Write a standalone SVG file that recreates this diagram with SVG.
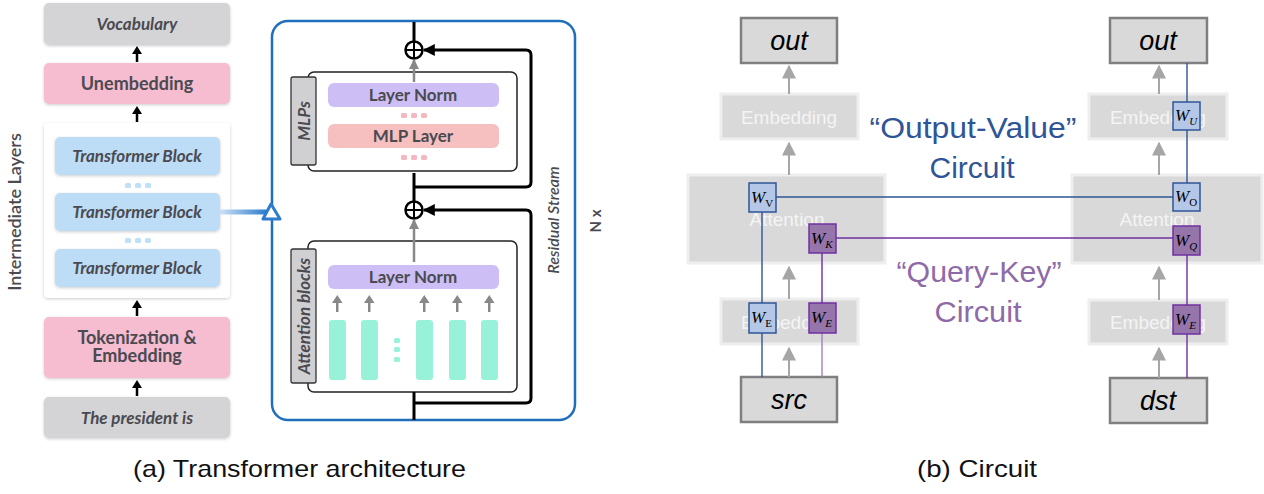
<svg xmlns="http://www.w3.org/2000/svg" width="1264" height="494" viewBox="0 0 1264 494">
<defs>
<style>
.lt{font-family:Lato,"Open Sans","Liberation Sans",sans-serif;fill:#4a4a50;text-anchor:middle}
.bi{font-weight:700;font-style:italic;font-size:17px}
.b{font-weight:700;font-size:18px}
.ln{font-weight:700;font-size:17px}
.sh{filter:url(#shadow)}
.gray{fill:#d4d4d7}
.pink{fill:#f6bcd0}
.tb{fill:#bddcf6}
.lnorm{fill:#cdbff5}
.mlp{fill:#f6c0c0}
.grn{fill:#97f2d9}
.inner{fill:#fff;stroke:#222;stroke-width:1.5}
.lab{fill:#d0d0d3;stroke:#333;stroke-width:1.3}
.res{fill:none;stroke:#000;stroke-width:3}
.ga{stroke:#888;stroke-width:2.5;fill:none}
.cal{font-family:"Liberation Sans",Arial,sans-serif}
.tk{fill:#d9d9d9;stroke:#7f7f7f;stroke-width:2.5}
.fd{fill:#d9d9d9;stroke:#eeeeee;stroke-width:3}
.fdt{font-family:"Liberation Sans",Arial,sans-serif;fill:#f4f4f4;font-size:19px;text-anchor:middle}
.wb{fill:#b4c7e7;stroke:#2f5597;stroke-width:1.5}
.wp{fill:#9575aa;stroke:#7030a0;stroke-width:1.5}
.wt{font-family:"Liberation Serif","Times New Roman",serif;font-style:italic;font-size:17px;fill:#000}
.ws{font-size:11px}
.up{font-style:normal}
.bl{stroke:#2f5597;stroke-width:1.4;fill:none}
.pl{stroke:#7030a0;stroke-width:1.4;fill:none}
.pl2{stroke:#a27fc4;stroke-width:1.4;fill:none}
.gar{stroke:#a6a6a6;stroke-width:2;fill:none}
</style>
<filter id="shadow" x="-10%" y="-10%" width="120%" height="130%">
<feDropShadow dx="0" dy="1" stdDeviation="1.5" flood-color="#000" flood-opacity="0.2"/>
</filter>
<marker id="bk" viewBox="0 0 10 10" refX="9" refY="5" markerWidth="4" markerHeight="4" orient="auto">
<path d="M0,0 L10,5 L0,10 z" fill="#000"/>
</marker>
<marker id="gk" viewBox="0 0 10 10" refX="9" refY="5" markerWidth="4" markerHeight="4" orient="auto">
<path d="M0,0 L10,5 L0,10 z" fill="#888"/>
</marker>
<marker id="ga2" viewBox="0 0 10 10" refX="9" refY="5" markerWidth="7" markerHeight="7.5" orient="auto">
<path d="M0,0 L10,5 L0,10 z" fill="#a6a6a6"/>
</marker>
<linearGradient id="bg" gradientUnits="userSpaceOnUse" x1="222" y1="212" x2="266" y2="212">
<stop offset="0" stop-color="#c7def5"/>
<stop offset="1" stop-color="#2e7dcc"/>
</linearGradient>
</defs>
<rect width="1264" height="494" fill="#fff"/>

<!-- ===== Left panel ===== -->
<g id="intermediate-layers-label">
<text class="lt" transform="translate(21,212) rotate(-90)" font-size="18" font-weight="600" font-family="'Open Sans',Lato,sans-serif" fill="#555">Intermediate Layers</text>
</g>
<g id="vocabulary"><rect class="gray sh" x="44" y="3" width="186" height="42" rx="5"/><text class="lt bi" x="137" y="30">Vocabulary</text></g>
<g id="unembedding"><rect class="pink sh" x="44" y="63" width="186" height="41" rx="5"/><text class="lt b" x="137" y="90">Unembedding</text></g>
<g id="intermediate-box">
<rect x="44" y="123" width="186" height="175" rx="4" fill="#fff" class="sh"/>
</g>
<g id="tblock1"><rect class="tb sh" x="55" y="137" width="165" height="38" rx="5"/><text class="lt bi" x="137" y="162">Transformer Block</text></g>
<g id="dots1" fill="#bfe0f7"><rect x="125" y="183" width="6" height="5" rx="1.5"/><rect x="135" y="183" width="6" height="5" rx="1.5"/><rect x="145" y="183" width="6" height="5" rx="1.5"/></g>
<g id="tblock2"><rect class="tb sh" x="55" y="193" width="165" height="38" rx="5"/><text class="lt bi" x="137" y="218">Transformer Block</text></g>
<g id="dots2" fill="#bfe0f7"><rect x="125" y="238" width="6" height="5" rx="1.5"/><rect x="135" y="238" width="6" height="5" rx="1.5"/><rect x="145" y="238" width="6" height="5" rx="1.5"/></g>
<g id="tblock3"><rect class="tb sh" x="55" y="249" width="165" height="38" rx="5"/><text class="lt bi" x="137" y="274">Transformer Block</text></g>
<g id="tokenization"><rect class="pink sh" x="44" y="317" width="186" height="61" rx="5"/><text class="lt b" x="137" y="344">Tokenization &amp;</text><text class="lt b" x="137" y="362">Embedding</text></g>
<g id="prompt"><rect class="gray sh" x="44" y="397" width="186" height="41" rx="5"/><text class="lt bi" x="137" y="424">The president is</text></g>

<!-- ===== Middle panel ===== -->
<g id="nx-panel">
<rect x="272" y="21" width="303" height="399" rx="16" fill="none" stroke="#1f6fbd" stroke-width="2.5"/>
<text class="lt" transform="translate(559,220) rotate(-90)" font-size="16" font-style="italic" font-weight="600" fill="#555">Residual Stream</text>
<text class="lt" transform="translate(601,221) rotate(-90)" font-size="15" font-weight="700" font-family="'Open Sans',sans-serif" fill="#555">N x</text>
</g>
<g id="mlp-block">
<rect class="inner" x="308" y="72" width="209" height="99" rx="6"/>
<rect class="lab" x="291" y="77" width="25" height="88" rx="2"/>
<text class="lt" transform="translate(310,121) rotate(-90)" font-size="17" font-style="italic" font-weight="700">MLPs</text>
<rect class="lnorm" x="328" y="83" width="171" height="24" rx="6"/>
<text class="lt ln" x="413" y="101">Layer Norm</text>
<g fill="#f6b8bf"><rect x="401" y="113" width="6" height="5" rx="1.5"/><rect x="411" y="113" width="6" height="5" rx="1.5"/><rect x="421" y="113" width="6" height="5" rx="1.5"/></g>
<rect class="mlp" x="328" y="124" width="171" height="24" rx="6"/>
<text class="lt ln" x="413" y="142">MLP Layer</text>
<g fill="#f6b8bf"><rect x="401" y="155" width="6" height="5" rx="1.5"/><rect x="411" y="155" width="6" height="5" rx="1.5"/><rect x="421" y="155" width="6" height="5" rx="1.5"/></g>
</g>
<g id="attention-block">
<rect class="inner" x="308" y="241" width="209" height="151" rx="6"/>
<rect class="lab" x="291" y="249" width="25" height="134" rx="2"/>
<text class="lt" transform="translate(310,316) rotate(-90)" font-size="17" font-style="italic" font-weight="700">Attention blocks</text>
<rect class="lnorm" x="328" y="265" width="171" height="24" rx="6"/>
<text class="lt ln" x="413" y="283">Layer Norm</text>
<g class="grn">
<rect x="329" y="320" width="17" height="60" rx="3"/>
<rect x="361" y="320" width="17" height="60" rx="3"/>
<rect x="416" y="320" width="17" height="60" rx="3"/>
<rect x="449" y="320" width="17" height="60" rx="3"/>
<rect x="481" y="320" width="17" height="60" rx="3"/>
<rect x="394" y="338" width="6" height="5" rx="1.5"/>
<rect x="394" y="347" width="6" height="5" rx="1.5"/>
<rect x="394" y="357" width="6" height="5" rx="1.5"/>
</g>
<g fill="#888">
<rect x="336" y="301" width="2.5" height="11"/><path d="M332,303 L337.25,295 L342.5,303 z"/>
<rect x="368" y="301" width="2.5" height="11"/><path d="M364,303 L369.25,295 L374.5,303 z"/>
<rect x="423" y="301" width="2.5" height="11"/><path d="M419,303 L424.25,295 L429.5,303 z"/>
<rect x="456" y="301" width="2.5" height="11"/><path d="M452,303 L457.25,295 L462.5,303 z"/>
<rect x="488" y="301" width="2.5" height="11"/><path d="M484,303 L489.25,295 L494.5,303 z"/>
</g>
</g>
<g id="plus1"><circle cx="414" cy="50" r="8.5" fill="#fff" stroke="#000" stroke-width="2.5"/><path d="M405.5,50 H422.5 M414,41.5 V58.5" stroke="#000" stroke-width="2"/></g>
<g id="plus2"><circle cx="414" cy="210" r="8.5" fill="#fff" stroke="#000" stroke-width="2.5"/><path d="M405.5,210 H422.5 M414,201.5 V218.5" stroke="#000" stroke-width="2"/></g>

<g id="connectors">
<g stroke="#000" stroke-width="2.5" fill="#000">
<line x1="137" y1="62" x2="137" y2="53"/><path d="M132,54 L137,46 L142,54 z" stroke="none"/>
<line x1="137" y1="122" x2="137" y2="113"/><path d="M132,114 L137,106 L142,114 z" stroke="none"/>
<line x1="137" y1="316" x2="137" y2="307"/><path d="M132,308 L137,300 L142,308 z" stroke="none"/>
<line x1="137" y1="396" x2="137" y2="387"/><path d="M132,388 L137,380 L142,388 z" stroke="none"/>
</g>
<line x1="222" y1="212" x2="266" y2="212" stroke="url(#bg)" stroke-width="5" stroke-linecap="round"/>
<path d="M263,219 L271,204 L280,219 z" fill="#fff" stroke="#2e7dcc" stroke-width="3" stroke-linejoin="round"/>
<path class="res" d="M414,22 V41"/>
<path class="res" d="M414,173 V201"/>
<path class="res" d="M414,392 V420"/>
<path class="res" d="M414,187 H526 Q531,187 531,182 V55 Q531,50 526,50 H424" marker-end="url(#bk)"/>
<path class="res" d="M414,403 H526 Q531,403 531,398 V215 Q531,210 526,210 H424" marker-end="url(#bk)"/>
<path class="ga" d="M414,82 V60" marker-end="url(#gk)"/>
<path class="ga" d="M414,262 V220" marker-end="url(#gk)"/>
</g>

<!-- ===== Right panel ===== -->
<g id="out-left"><rect class="tk" x="741" y="18" width="96" height="45"/><text class="cal" x="789" y="50" font-size="27" font-style="italic" text-anchor="middle">out</text></g>
<g id="emb-top-left"><rect class="fd" x="721" y="94" width="137" height="45"/><text class="fdt" x="789" y="124">Embedding</text></g>
<g id="attn-left"><rect class="fd" x="688" y="175" width="197" height="88"/><text class="fdt" x="787" y="226" font-size="20">Attention</text></g>
<g id="emb-bot-left"><rect class="fd" x="721" y="299" width="137" height="45"/><text class="fdt" x="789" y="329">Embedding</text></g>
<g id="src"><rect class="tk" x="741" y="377" width="96" height="45"/><text class="cal" x="789" y="409" font-size="27" font-style="italic" text-anchor="middle">src</text></g>

<g id="out-right"><rect class="tk" x="1110" y="18" width="97" height="45"/><text class="cal" x="1158" y="50" font-size="27" font-style="italic" text-anchor="middle">out</text></g>
<g id="emb-top-right"><rect class="fd" x="1089" y="94" width="138" height="45"/><text class="fdt" x="1158" y="124">Embedding</text></g>
<g id="attn-right"><rect class="fd" x="1072" y="175" width="190" height="88"/><text class="fdt" x="1157" y="226" font-size="20">Attention</text></g>
<g id="emb-bot-right"><rect class="fd" x="1089" y="300" width="138" height="44"/><text class="fdt" x="1158" y="329">Embedding</text></g>
<g id="dst"><rect class="tk" x="1110" y="378" width="97" height="45"/><text class="cal" x="1158" y="410" font-size="27" font-style="italic" text-anchor="middle">dst</text></g>

<g id="circuit-connectors">
<line class="gar" x1="789" y1="94" x2="789" y2="66" marker-end="url(#ga2)"/>
<line class="gar" x1="789" y1="175" x2="789" y2="143" marker-end="url(#ga2)"/>
<line class="gar" x1="789" y1="299" x2="789" y2="267" marker-end="url(#ga2)"/>
<line class="gar" x1="789" y1="377" x2="789" y2="348" marker-end="url(#ga2)"/>
<line class="gar" x1="1159" y1="94" x2="1159" y2="66" marker-end="url(#ga2)"/>
<line class="gar" x1="1159" y1="175" x2="1159" y2="143" marker-end="url(#ga2)"/>
<line class="gar" x1="1159" y1="300" x2="1159" y2="267" marker-end="url(#ga2)"/>
<line class="gar" x1="1159" y1="378" x2="1159" y2="348" marker-end="url(#ga2)"/>
<path class="bl" d="M762,212 V303 M762,333 V377 M776,197 H1173"/>
<path class="pl" d="M822,253 V303 M836,238 H1173"/>
<path class="pl2" d="M822,333 V377"/>
<path class="bl" d="M1187,63 V102 M1187,130 V183"/>
<path class="pl" d="M1187,255 V305 M1187,334 V378"/>
</g>

<g id="w-v"><rect class="wb" x="749" y="183" width="27" height="29"/><text class="wt" x="751" y="203">W<tspan class="ws up" dy="4">V</tspan></text></g>
<g id="w-k"><rect class="wp" x="809" y="224" width="27" height="29"/><text class="wt" x="811" y="244">W<tspan class="ws" dy="4">K</tspan></text></g>
<g id="w-e-blue"><rect class="wb" x="749" y="303" width="27" height="30"/><text class="wt" x="751" y="323">W<tspan class="ws up" dy="4">E</tspan></text></g>
<g id="w-e-purple-left"><rect class="wp" x="809" y="303" width="27" height="30"/><text class="wt" x="811" y="323">W<tspan class="ws" dy="4">E</tspan></text></g>
<g id="w-u"><rect class="wb" x="1173" y="102" width="27" height="28"/><text class="wt" x="1175" y="121">W<tspan class="ws" dy="4">U</tspan></text></g>
<g id="w-o"><rect class="wb" x="1173" y="183" width="27" height="28"/><text class="wt" x="1175" y="202">W<tspan class="ws up" dy="4">O</tspan></text></g>
<g id="w-q"><rect class="wp" x="1173" y="226" width="27" height="29"/><text class="wt" x="1175" y="246">W<tspan class="ws" dy="4">Q</tspan></text></g>
<g id="w-e-purple-right"><rect class="wp" x="1173" y="305" width="27" height="29"/><text class="wt" x="1175" y="325">W<tspan class="ws" dy="4">E</tspan></text></g>

<g id="ov-label" class="cal" fill="#2f5597" font-size="30" text-anchor="middle">
<text x="973" y="138" textLength="207" lengthAdjust="spacingAndGlyphs">“Output-Value”</text>
<text x="972" y="178" textLength="85" lengthAdjust="spacingAndGlyphs">Circuit</text>
</g>
<g id="qk-label" class="cal" fill="#8f6aa9" font-size="30" text-anchor="middle">
<text x="979" y="282" textLength="165" lengthAdjust="spacingAndGlyphs">“Query-Key”</text>
<text x="978" y="322" textLength="87" lengthAdjust="spacingAndGlyphs">Circuit</text>
</g>

<g id="captions" class="cal" font-size="24" fill="#111">
<text x="133" y="477" textLength="333" lengthAdjust="spacingAndGlyphs">(a) Transformer architecture</text>
<text x="917" y="477" textLength="120" lengthAdjust="spacingAndGlyphs">(b) Circuit</text>
</g>
</svg>
